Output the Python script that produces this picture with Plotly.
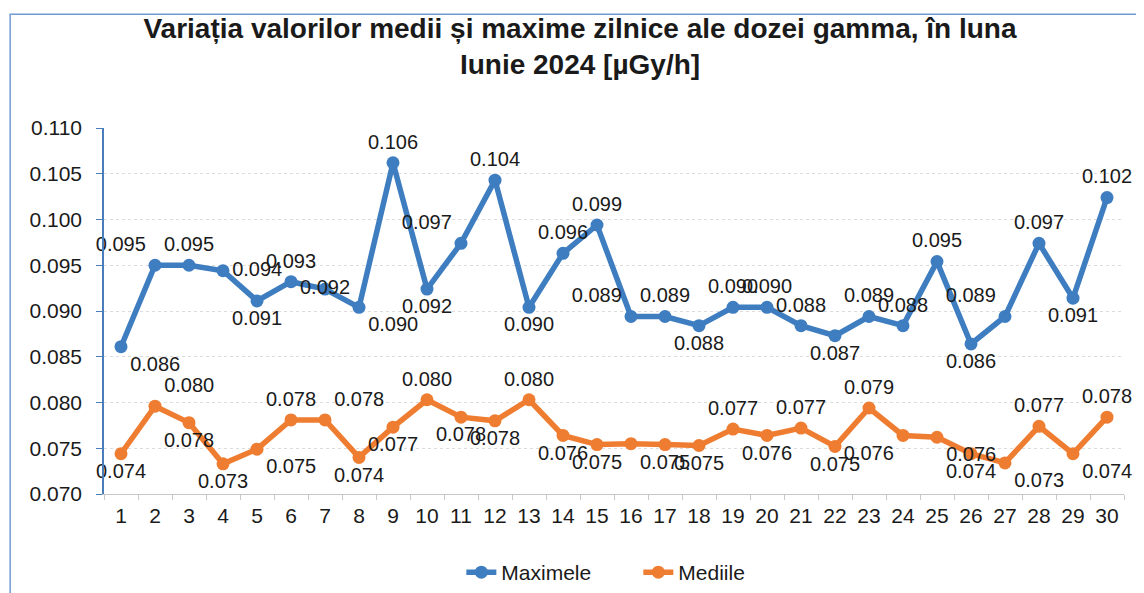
import plotly.graph_objects as go

days = [str(d) for d in range(1, 31)]

maximele = [0.0861, 0.0950, 0.0950, 0.0944, 0.0911, 0.0932, 0.0924, 0.0904, 0.1062, 0.0924,
            0.0974, 0.1043, 0.0904, 0.0963, 0.0994, 0.0894, 0.0894, 0.0884, 0.0904, 0.0904,
            0.0884, 0.0873, 0.0894, 0.0884, 0.0954, 0.0864, 0.0894, 0.0974, 0.0914, 0.1024]

mediile = [0.0744, 0.0796, 0.0778, 0.0733, 0.0749, 0.0781, 0.0781, 0.0740, 0.0773, 0.0803,
           0.0784, 0.0780, 0.0803, 0.0764, 0.0754, 0.0755, 0.0754, 0.0753, 0.0771, 0.0764,
           0.0772, 0.0752, 0.0794, 0.0764, 0.0762, 0.0744, 0.0734, 0.0774, 0.0744, 0.0784]

max_pos = ["bottom right", "top left", "top center", "middle right", "bottom center",
           "top center", "middle center", "bottom right", "top center", "bottom center",
           "top left", "top center", "bottom center", "top center", "top center",
           "top left", "top center", "bottom center", "top center", "top center",
           "top center", "bottom center", "top center", "top center", "top center",
           "bottom center", "top left", "top center", "bottom center", "top center"]

med_pos = ["bottom center", "top right", "bottom center", "bottom center", "bottom right",
           "top center", "top right", "bottom center", "bottom center", "top center",
           "bottom center", "bottom center", "top center", "bottom center", "bottom center",
           "bottom center", "bottom center", "bottom center", "top center", "bottom center",
           "top center", "bottom center", "top center", "bottom left", "bottom right",
           "bottom center", "bottom right", "top center", "bottom right", "top center"]

y_ticks = [0.070, 0.075, 0.080, 0.085, 0.090, 0.095, 0.100, 0.105, 0.110]

blue = "#3e7dc0"
orange = "#ef7d31"
font = "Liberation Sans, Arial, sans-serif"
txt = "#1a1a1a"

max_text = [f"{v:.3f}" for v in maximele]
med_text = [f"{v:.3f}" for v in mediile]
med_text[15] = ""  # label hidden in the original

fig = go.Figure()
fig.add_trace(go.Scatter(
    x=days, y=maximele, name="Maximele", mode="lines+markers+text",
    line=dict(color=blue, width=5.5), marker=dict(color=blue, size=13),
    text=max_text, textposition=max_pos,
    textfont=dict(size=20, color=txt, family=font),
    cliponaxis=False,
))
fig.add_trace(go.Scatter(
    x=days, y=mediile, name="Mediile", mode="lines+markers+text",
    line=dict(color=orange, width=5.5), marker=dict(color=orange, size=13),
    text=med_text, textposition=med_pos,
    textfont=dict(size=20, color=txt, family=font),
    cliponaxis=False,
))

fig.update_layout(
    width=1144, height=593,
    paper_bgcolor="white", plot_bgcolor="white",
    margin=dict(l=96, r=28, t=120, b=107, autoexpand=False),
    font=dict(family=font, color=txt),
    title=dict(
        text="<b>Variația valorilor medii și maxime zilnice ale dozei gamma, în luna<br>Iunie 2024 [µGy/h]</b>",
        x=0.5, xanchor="center", y=0.95, yanchor="top", yref="container",
        font=dict(size=28, family=font, color=txt),
    ),
    legend=dict(
        orientation="h", x=0.551, xanchor="center", xref="container",
        y=0.048, yanchor="middle", yref="container",
        font=dict(size=21, family=font, color=txt),
        entrywidth=132, bgcolor="rgba(0,0,0,0)",
    ),
    showlegend=True,
)

fig.update_xaxes(
    type="category", range=[-0.5, 29.5], automargin=False,
    showline=True, linecolor="#c8c8c8", linewidth=1,
    ticks="outside", tickson="boundaries", ticklen=5, tickcolor="#c8c8c8",
    tickfont=dict(size=21, family=font, color=txt), ticklabelstandoff=3,
    showgrid=False,
)
fig.update_yaxes(
    range=[0.070, 0.110], tickvals=y_ticks, tickformat=".3f", automargin=False,
    showline=True, linecolor="#4a7ebb", linewidth=1.5,
    ticks="outside", ticklen=6, tickcolor="#4a7ebb",
    tickfont=dict(size=21, family=font, color=txt), ticklabelstandoff=10,
    showgrid=True, gridcolor="#dcdcdc", gridwidth=1, griddash="dot",
    zeroline=False,
)

# outer frame of the chart
fig.add_shape(type="rect", xref="paper", yref="paper",
              x0=-0.092, x1=1.0157, y0=-0.33, y1=1.311,
              line=dict(color="#6f9bd0", width=1.5))

fig.write_html("out.html")
